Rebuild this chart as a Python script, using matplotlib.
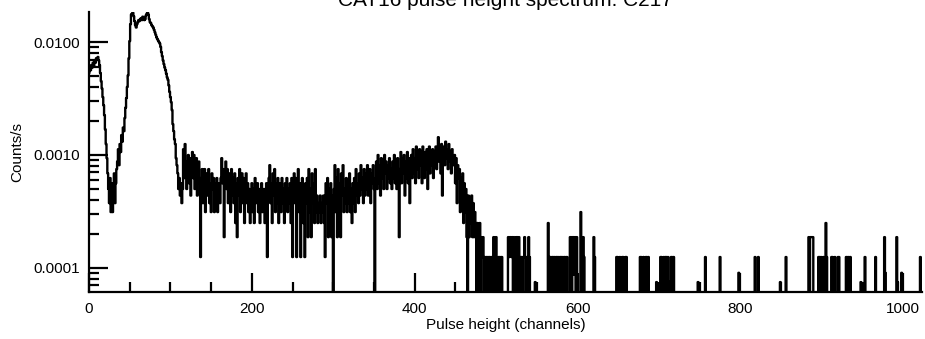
import numpy as np
import matplotlib
matplotlib.use("Agg")
import matplotlib.pyplot as plt
from matplotlib.ticker import MultipleLocator, LogLocator, FuncFormatter, NullFormatter

plt.rcParams['font.family'] = ['Liberation Sans', 'DejaVu Sans']

title = "CAT16 pulse height spectrum: C217"
live_time = 16000.0  # s, one count = 6.25e-5 counts/s

# counts per channel, channels 0..487
peak_counts = [
    85, 95, 90, 100, 95, 105, 98, 110, 105, 115, 112, 118, 110,
    100, 85, 72, 62, 52, 44, 36, 27, 20, 15, 11,
    8, 6, 10, 5, 9, 5, 7, 11, 6, 9, 12,
    14, 18, 13, 20, 17, 24, 21, 28, 26, 34, 42, 51, 64, 81, 115, 163, 230, 280,
    285, 290, 270, 245, 225, 215, 230, 240, 250, 245, 255, 260, 250, 268, 262, 250, 255, 275, 285, 295,
    280, 255, 240, 235, 225, 220, 215, 205, 195, 185, 176, 170, 165, 160, 155, 145, 130, 120, 110, 102,
    95, 90, 84, 78, 74, 66, 58, 52, 47, 40, 30, 26, 22, 20, 15, 13, 11,
    8, 10, 7, 9, 6, 8, 18, 10,
    20, 12, 8, 14, 16, 9, 15, 7, 13, 17, 10, 16, 8, 12, 15, 7, 11, 14, 9,
    2, 10, 12, 6, 9, 12, 5, 8, 11, 7, 12, 6, 9, 5, 11, 8, 10, 5, 9, 6,
    10, 5, 8, 9, 6, 10, 15, 9, 12, 3, 11, 14, 8, 12, 6, 11, 9, 5, 12, 7,
    10, 6, 11, 4, 9, 3, 10, 7, 12, 5, 9, 11, 6, 10, 4, 8, 11, 6, 9, 5,
    8, 4, 7, 9, 5, 8, 4, 10, 6, 7, 9, 5, 8, 4, 7, 9, 5, 6, 8, 4,
    7, 9, 2, 8, 10, 13, 6, 9, 4, 11, 7, 12, 5, 9, 6, 10, 4, 8, 9, 5,
    10, 6, 8, 4, 9, 7, 10, 5, 8, 6, 9, 4, 10, 2, 9, 11, 6, 10, 2, 8,
    12, 5, 9, 2, 7, 10, 4, 8, 2, 9, 6, 10, 3, 12, 5, 8, 3, 11, 6, 9,
    4, 12, 5, 7, 4, 6, 5, 7, 4, 6, 5, 7, 4, 2, 9, 6, 10, 3, 8, 5,
    9, 3, 7, 0, 8, 13, 5, 10, 3, 12, 6, 9, 3, 11, 7, 13, 5, 8, 6, 10,
    5, 9, 6, 11, 5, 8, 4, 9, 6, 10, 5, 12, 7, 9, 6, 11, 7, 13, 8, 10,
    6, 12, 7, 11, 8, 13, 7, 10, 12, 6, 11, 9, 13, 8, 0, 10, 14, 8, 16, 9,
    13, 7, 15, 10, 12, 8, 16, 11, 14, 8, 13, 10, 15, 9, 12, 8, 14, 10, 16, 9,
    13, 8, 15, 11, 3, 12, 17, 9, 15, 11, 16, 7, 14, 10, 17, 9, 15, 6, 13, 16,
    10, 18, 11, 15, 9, 19, 12, 16, 10, 18, 13, 17, 9, 19, 14, 10, 17, 12, 18, 8,
    15, 19, 11, 16, 13, 18, 10, 17, 14, 19, 12, 16, 23, 14, 18, 11, 20, 7, 16, 19,
    13, 21, 15, 18, 12, 20, 14, 17, 11, 18, 15, 13, 16, 9, 15, 6, 13, 10, 12, 5,
    10, 7, 11, 4, 9, 5, 8, 3, 0, 7, 3, 6, 4, 7, 3, 6, 3, 5, 4, 0,
    4, 3, 0, 4, 0, 3, 2, 3, 0, 2, 0,
]

# sparse tail above channel 487
tail_channels = [
    488, 489, 491, 492, 494, 497, 498, 500, 503, 504, 506, 507,
    515, 516, 517, 518, 519, 520, 522, 523, 525, 526, 528, 529, 531, 532, 534, 535, 536, 538, 540, 541, 548,
    564, 566, 567, 569, 570, 572, 574, 575, 577, 579, 580, 582, 584, 586, 587,
    591, 592, 594, 595, 596, 597, 599, 604, 607, 608, 620, 621,
    648, 649, 652, 655, 656, 659, 660, 677, 678, 681, 684, 685, 687,
    697, 702, 703, 706, 708, 709, 711, 713, 715, 716, 718,
    748, 757, 775, 798, 818, 822, 849, 856,
    884, 886, 887, 888, 889, 896, 897, 899, 902, 905, 906, 912, 913, 916, 920, 921,
    930, 931, 933, 935, 948, 953, 966, 977, 978, 992, 993, 998, 1021,
]
tail_counts = [
    2, 2, 2, 2, 2, 3, 2, 3, 2, 2, 2, 2,
    3, 2, 3, 3, 2, 3, 3, 2, 3, 3, 3, 2, 2, 2, 2, 3, 2, 2, 3, 2, 1.2,
    4, 2, 2, 2, 2, 2, 2, 2, 2, 2, 2, 2, 2, 2, 2,
    3, 3, 3, 3, 1.4, 3, 3, 5, 3, 2, 3, 2,
    2, 2, 2, 2, 2, 2, 2, 2, 2, 2, 2, 2, 2,
    1.2, 2, 2, 2, 2, 2, 2, 1.2, 2, 2, 2,
    1.2, 2, 2, 1.45, 2, 2, 1.2, 2,
    3, 3, 3, 3, 3, 2, 2, 2, 2, 4, 2, 2, 2, 2, 2, 2,
    2, 2, 2, 2, 1.2, 2, 2, 3, 1.45, 3, 1.2, 1.45, 2,
]

channels = np.arange(1024)
counts = np.zeros(1024)
counts[:len(peak_counts)] = peak_counts
counts[tail_channels] = tail_counts
rate = counts / live_time

fig = plt.figure(figsize=(9.25, 3.39), dpi=100)
ax = fig.add_axes([89 / 925, 1 - 292 / 339, 833 / 925, 280 / 339])

ax.plot(channels, rate, drawstyle='steps-mid', color='black', lw=1.7)
ax.set_yscale('log')
ax.set_xlim(0, 1023)
ax.set_ylim(6.13e-5, 0.01843)

ax.spines['top'].set_visible(False)
ax.spines['right'].set_visible(False)
ax.spines['left'].set_linewidth(1.6)
ax.spines['bottom'].set_linewidth(1.6)

ax.set_xticks(range(0, 1001, 200))
ax.xaxis.set_minor_locator(MultipleLocator(50))
ax.yaxis.set_major_locator(LogLocator(base=10))
ax.yaxis.set_minor_locator(LogLocator(base=10, subs=np.arange(2, 10)))
ax.yaxis.set_major_formatter(FuncFormatter(lambda v, p: f"{v:.4f}"))
ax.yaxis.set_minor_formatter(NullFormatter())

ax.tick_params(which='major', direction='in', length=13.5, width=1.6, labelsize=11)
ax.tick_params(which='minor', direction='in', length=7, width=1.6)
ax.tick_params(axis='x', which='major', pad=7)
ax.tick_params(axis='y', which='major', pad=6.5)

fig.text(505 / 925, 1 - 6 / 339, title, ha='center', va='baseline', fontsize=15)
fig.text(17.5 / 925, 1 - 152 / 339, "Counts/s", rotation=90, ha='center', va='center', fontsize=11)
fig.text(506 / 925, 1 - 325 / 339, "Pulse height (channels)", ha='center', va='center', fontsize=11)

fig.savefig("out.png", dpi=100)
